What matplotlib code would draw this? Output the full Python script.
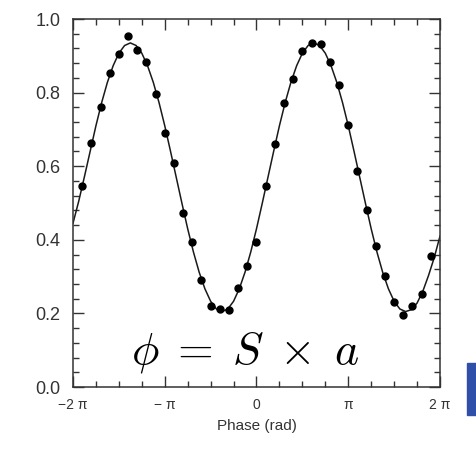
import numpy as np
import matplotlib
matplotlib.use("Agg")
import matplotlib.pyplot as plt
from matplotlib.patches import Rectangle
from matplotlib.ticker import MultipleLocator

# measured points, phase in units of pi
point_phase = [-1.9, -1.8, -1.7, -1.6, -1.5, -1.4, -1.3, -1.2, -1.1, -1.0,
               -0.9, -0.8, -0.7, -0.6, -0.5, -0.4, -0.3, -0.2, -0.1, 0.0,
               0.1, 0.2, 0.3, 0.4, 0.5, 0.6, 0.7, 0.8, 0.9, 1.0,
               1.1, 1.2, 1.3, 1.4, 1.5, 1.6, 1.7, 1.8, 1.9]
point_value = [0.547, 0.664, 0.762, 0.852, 0.904, 0.954, 0.917, 0.882, 0.795, 0.691,
               0.610, 0.472, 0.395, 0.291, 0.220, 0.211, 0.210, 0.270, 0.329, 0.394,
               0.547, 0.660, 0.773, 0.837, 0.912, 0.936, 0.933, 0.883, 0.820, 0.711,
               0.588, 0.480, 0.382, 0.302, 0.231, 0.197, 0.219, 0.253, 0.356]

# fitted curve, read every pi/16 from -2 pi to 2 pi
curve_value = [0.445, 0.505, 0.572, 0.641, 0.710, 0.773, 0.828, 0.873, 0.907, 0.928,
               0.935, 0.928, 0.907, 0.873, 0.828, 0.773, 0.710, 0.641, 0.570, 0.499,
               0.430, 0.367, 0.312, 0.267, 0.233, 0.212, 0.205, 0.212, 0.233, 0.267,
               0.312, 0.367, 0.430, 0.499, 0.570, 0.641, 0.710, 0.773, 0.828, 0.873,
               0.907, 0.928, 0.935, 0.928, 0.907, 0.873, 0.828, 0.773, 0.710, 0.641,
               0.570, 0.499, 0.430, 0.367, 0.312, 0.267, 0.233, 0.212, 0.205, 0.210,
               0.228, 0.260, 0.303, 0.352, 0.410]

xtick_pos = [-2, -1, 0, 1, 2]
xtick_labels = ["\u22122 \u03c0", "\u2212 \u03c0", "0", "\u03c0", "2 \u03c0"]
ytick_pos = [0.0, 0.2, 0.4, 0.6, 0.8, 1.0]

plt.rcParams['font.family'] = ['Liberation Sans', 'DejaVu Sans']
plt.rcParams['mathtext.fontset'] = 'cm'

fig = plt.figure(figsize=(4.77, 4.51), dpi=100)
ax = fig.add_axes([73 / 477, 64 / 451, 367 / 477, 368 / 451])

curve_x = np.linspace(-2 * np.pi, 2 * np.pi, len(curve_value))
ax.plot(curve_x, curve_value, color='#1a1a1a', lw=1.1)
ax.plot(np.array(point_phase) * np.pi, point_value, 'o', color='black', ms=5)

ax.set_xlim(-2 * np.pi, 2 * np.pi)
ax.set_ylim(0, 1)
ax.set_xticks(np.array(xtick_pos) * np.pi)
ax.set_xticklabels(xtick_labels, fontsize=10, color='#333333')
ax.xaxis.set_minor_locator(MultipleLocator(np.pi / 4))
ax.set_yticks(ytick_pos)
ax.set_yticklabels(["%.1f" % v for v in ytick_pos], fontsize=13, color='#333333')
ax.yaxis.set_minor_locator(MultipleLocator(0.04))

ax.tick_params(which='both', direction='in', top=True, right=True, color='#333333')
ax.tick_params(which='major', length=8, width=1)
ax.tick_params(which='minor', length=4.5, width=1)
ax.tick_params(axis='y', pad=9)
ax.tick_params(axis='x', pad=8)
for s in ax.spines.values():
    s.set_color('#333333')
    s.set_linewidth(1.1)

ax.set_xlabel("Phase (rad)", fontsize=11, color='#333333', labelpad=5)

ax.text(-0.39, 0.065, r"$\phi\;=\;S\;\times\;a$", fontsize=33,
        ha='center', va='baseline')

fig.patches.append(Rectangle((467 / 477, 36 / 451), 9 / 477, 52 / 451,
                             transform=fig.transFigure, color='#2f4fa8', zorder=5))

fig.savefig("out.png", dpi=100)
